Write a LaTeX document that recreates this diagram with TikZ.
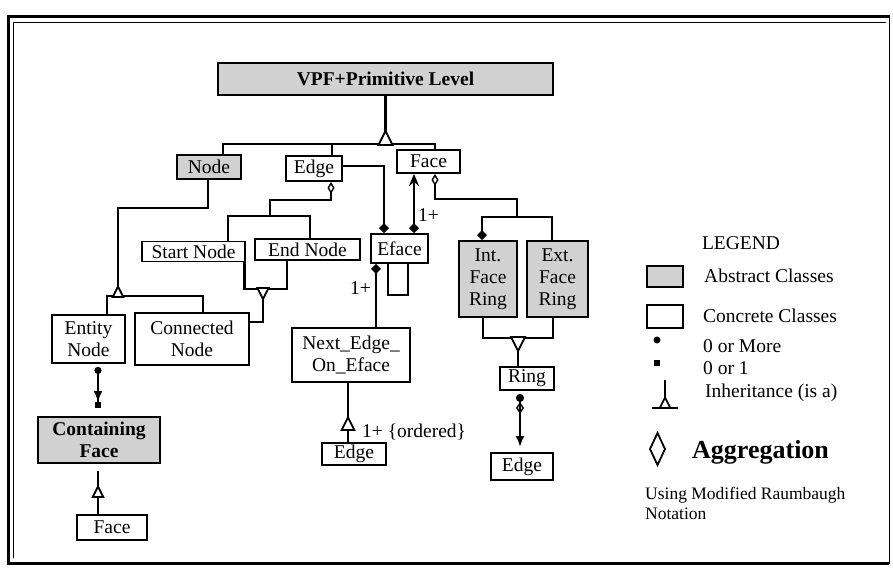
\documentclass[tikz,border=0pt]{standalone}
\usepackage{fontspec}
\setmainfont{Liberation Serif}
\usetikzlibrary{arrows.meta}
\newcommand\dgfont{\fontsize{19.5}{22}\selectfont}

\begin{document}
\begin{tikzpicture}[x=1pt,y=-1pt,font=\dgfont,
  cls/.style={draw,line width=1.8pt,inner sep=0pt,align=center},
  abs/.style={cls,fill=black!18},
  conn/.style={line width=2.2pt},
  txt/.style={inner sep=0pt,anchor=west},
  isa/.pic={\draw[line width=1.8pt,fill=white] (-7,0) -- (0,-14) -- (7,0) -- cycle;},
  agg/.tip={Turned Square[open,length=12pt,width=7pt,line width=1.4pt]},
  many/.tip={Turned Square[length=10pt,width=10pt]}]
\useasboundingbox (0,0) rectangle (893,580);
\draw[line width=3pt] (889,17) -- (8,17) -- (8,563) -- (889,563);
\draw[line width=1pt] (889,15) -- (889,564);
\draw[line width=.8pt] (886,22) -- (13,22) -- (13,558);

\node[abs,minimum width=335,minimum height=32,font=\dgfont\bfseries] (vpf) at (385.5,79) {VPF+Primitive Level};
\node[abs,minimum width=64,minimum height=24] (node) at (209,167) {Node};
\node[cls,minimum width=56,minimum height=25] (edge) at (314,168.5) {Edge};
\node[cls,minimum width=63,minimum height=23] (face) at (428.5,161.5) {Face};
\node[cls,minimum width=103,minimum height=20] (start) at (193.5,251.5) {Start Node};
\node[cls,minimum width=105,minimum height=21] (endn) at (307.5,249.5) {End Node};
\node[cls,minimum width=57,minimum height=29] (eface) at (399.5,248.5) {Eface};
\node[abs,minimum width=58,minimum height=76] (intr) at (488,279) {Int.\\Face\\Ring};
\node[abs,minimum width=61,minimum height=76] (extr) at (557.5,279) {Ext.\\Face\\Ring};
\node[cls,minimum width=73,minimum height=48] (entity) at (88.5,339) {Entity\\Node};
\node[cls,minimum width=114,minimum height=52] (conn) at (192,339) {Connected\\Node};
\node[cls,minimum width=118,minimum height=54] (next) at (351,355) {Next\_Edge\_\\On\_Eface};
\node[cls,minimum width=54,minimum height=23] (ring) at (527,378.5) {Ring};
\node[abs,minimum width=122,minimum height=46,font=\dgfont\bfseries] (cface) at (99,440) {Containing\\Face};
\node[cls,minimum width=70,minimum height=25] (face2) at (112,527.5) {Face};
\node[cls,minimum width=64,minimum height=22] (edge2) at (354,454) {Edge};
\node[cls,minimum width=62,minimum height=27] (edge3) at (522,466.5) {Edge};

\coordinate (tb) at (385.5,145);
\coordinate (nb) at (118,297);
\coordinate (sb) at (270,217);
\coordinate (yb) at (263,288);
\coordinate (fb) at (517,218);
\coordinate (rb) at (518,337);
\coordinate (t3) at (348,430);
\coordinate (t4) at (98,497);

\draw[conn] (vpf.south) -- (tb);
\draw[conn] ([xshift=14]node.north) -- ++(0,-10) -| ([xshift=6.5]face.north);
\draw[conn] ([xshift=18]edge.north) -- ++(0,-11);
\draw[line width=1.4pt] ([xshift=-1]node.south) -- ++(0,28) -| (nb);
\draw[conn] ([xshift=18.5]entity.north) -- ++(0,-18) -| ([xshift=11]conn.north);
\draw[conn,{agg}-] ([xshift=17]edge.south) -- ++(0,18) -| (sb);
\draw[conn] ([xshift=34.5]start.north) -- ++(0,-24.5) -| ([xshift=2.5]endn.north);
\draw[conn] ([xshift=51]start.south) -- ++(0,26.5) -| ([xshift=-20.5]endn.south);
\draw[conn] (yb) |- ([yshift=17]conn.east);
\draw[conn,-{many}] ([yshift=2.5]edge.east) -| ([xshift=-15.5]eface.north);
\draw[conn,{many}-{Stealth[length=12pt,width=10pt]}] ([xshift=14.5]eface.north) -- ([xshift=-14.5]face.south)
  node[right,pos=.31,inner sep=3pt] (l1) {1+};
\draw[line width=1.4pt] ([xshift=-11.5]eface.south) -- ++(0,31) -| ([xshift=8.5]eface.south);
\draw[conn,{many}-] ([xshift=-23.5]eface.south) -- ([xshift=25]next.north)
  node[left,pos=.38,inner sep=4pt] (l2) {1+};
\draw[conn] ([xshift=-6]edge2.north) -- ([xshift=-3]next.south);
\node[txt] (l3) at (362,432) {1+ \{ordered\}};
\draw[conn,shorten <=3pt,shorten >=6pt,{Circle[length=7pt]}-{Latex[length=11pt,width=9pt] Square[length=6pt,width=6pt,sep=2pt]}]
  ([xshift=9.5]entity.south) -- ([xshift=-1]cface.north);
\draw[conn,shorten >=7pt] ([xshift=-14]face2.north) -- ([xshift=-1]cface.south);
\draw[conn,{agg}-] ([xshift=6.5]face.south) -- ++(0,25) -| (fb);
\draw[conn,{many}-] ([xshift=-6]intr.north) -- ++(0,-23) -| ([xshift=-5.5]extr.north);
\draw[conn] ([xshift=-5]intr.south) -- ++(0,20) -| ([xshift=-4.5]extr.south);
\draw[conn] (rb) -- ([xshift=-9]ring.north);
\draw[conn,shorten >=5pt,{Circle[length=8pt,sep=3pt] Turned Square[open,length=12pt,width=8pt,line width=1.4pt]}-{Latex[length=11pt,width=9pt]}]
  ([xshift=-7]ring.south) -- ([xshift=-2]edge3.north);

\pic at (tb) {isa};
\pic[scale=.75] at (nb) {isa};
\pic[scale=.8,rotate=180] at (yb) {isa};
\pic[rotate=180] at (rb) {isa};
\pic[scale=.9] at (t3) {isa};
\pic[scale=.75] at (t4) {isa};

\node (legend) at (741,243) {LEGEND};
\node[abs,minimum width=36,minimum height=21] (absbox) at (665,276.5) {};
\node[txt] (abstxt) at (704,276) {Abstract Classes};
\node[cls,minimum width=36,minimum height=23] (conbox) at (665,316.5) {};
\node[txt] (contxt) at (703,316) {Concrete Classes};
\fill (657,340) circle (3.5);
\node[txt] (manytxt) at (703,346) {0 or More};
\fill (654,360) rectangle ++(6,6);
\node[txt] (onetxt) at (703,368) {0 or 1};
\draw[conn] (665,380) -- (665,408);
\pic[scale=.75] at (665,408) {isa};
\draw[conn] (652,408) -- (678,408);
\node[txt] (isatxt) at (705,393) {Inheritance (is a)};
\draw[line width=1.8pt] (657.5,433) -- (665,449) -- (657.5,465) -- (650,449) -- cycle;
\node[txt,font=\fontsize{26}{28}\selectfont\bfseries] (aggtxt) at (692,452) {Aggregation};
\node[txt,anchor=north west,align=left,font=\fontsize{17.5}{20}\selectfont] (usetxt) at (645,487) {Using Modified Raumbaugh\\Notation};
\end{tikzpicture}
\end{document}
